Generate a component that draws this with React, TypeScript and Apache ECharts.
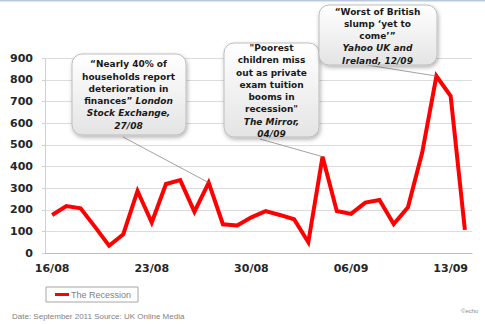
import React, { useEffect, useRef } from 'react';
import * as echarts from 'echarts';

const dates = [
  '16/08', '17/08', '18/08', '19/08', '20/08', '21/08', '22/08', '23/08', '24/08', '25/08',
  '26/08', '27/08', '28/08', '29/08', '30/08', '31/08', '01/09', '02/09', '03/09', '04/09',
  '05/09', '06/09', '07/09', '08/09', '09/09', '10/09', '11/09', '12/09', '13/09', '14/09',
];
const recession = [
  177, 218, 208, 123, 35, 88, 288, 142, 320, 338,
  192, 326, 134, 128, 166, 195, 177, 157, 51, 446,
  195, 182, 234, 246, 135, 212, 465, 818, 726, 108,
];
const seriesName = 'The Recession';
const calloutDates = ['27/08', '04/09', '12/09'];
const calloutTexts = [
  '“Nearly 40% of\nhouseholds report\ndeterioration in\nfinances” {i|London}\n{i|Stock Exchange,}\n{i|27/08}',
  '"Poorest\nchildren miss\nout as private\nexam tuition\nbooms in\nrecession"\n{i|The Mirror,}\n{i|04/09}',
  '“Worst of British\nslump ‘yet to\ncome’”\n{i|Yahoo UK and}\n{i|Ireland, 12/09}',
];
const footerText = 'Date: September 2011 Source: UK Online Media';
const creditText = '©echo';

// layout of the callout boxes (annotation placement)
const boxes = [
  { x: 72, y: 54, w: 114, h: 81, tx: 128.5, ty: 95, ax: 123, ay: 137 },
  { x: 224, y: 43, w: 95, h: 94, tx: 271.5, ty: 91, ax: 260, ay: 139 },
  { x: 319, y: 5, w: 118, h: 60, tx: 377.5, ty: 36.2, ax: 367, ay: 65 },
];

const FONT = '"DejaVu Sans", sans-serif';

export default function App() {
  const ref = useRef<HTMLDivElement>(null);
  useEffect(() => {
    document.body.style.margin = '0';
    const chart = echarts.init(ref.current!, null, { renderer: 'svg' });
    chart.setOption({
      animation: false,
      backgroundColor: '#ffffff',
      grid: { left: 45, right: 13, top: 58.3, bottom: 70.7, containLabel: false },
      xAxis: {
        type: 'category',
        data: dates,
        boundaryGap: true,
        axisLine: { lineStyle: { color: '#bfbfbf', width: 1 } },
        axisTick: { interval: 6, length: 4, lineStyle: { color: '#bfbfbf' } },
        axisLabel: {
          interval: 6,
          margin: 10,
          color: '#262626',
          fontFamily: FONT,
          fontWeight: 'bold',
          fontSize: 11,
        },
        splitLine: { show: false },
      },
      yAxis: {
        type: 'value',
        min: 0,
        max: 900,
        interval: 100,
        axisLine: { show: true, lineStyle: { color: '#d0d0d0', width: 1 } },
        axisTick: { show: true, length: 3, lineStyle: { color: '#d0d0d0' } },
        axisLabel: {
          margin: 12,
          color: '#262626',
          fontFamily: FONT,
          fontWeight: 'bold',
          fontSize: 11,
        },
        splitLine: { show: true, lineStyle: { color: '#dcdcdc', width: 1 } },
      },
      legend: {
        left: 46,
        top: 287,
        orient: 'horizontal',
        borderColor: '#a6a6a6',
        borderWidth: 1,
        padding: [3, 7, 3, 9],
        itemWidth: 14,
        itemHeight: 3,
        itemGap: 4,
        icon: 'rect',
        textStyle: { color: '#7f7f7f', fontSize: 9, fontFamily: '"Liberation Sans", Arial, sans-serif', padding: [0, 0, 0, -3] },
        data: [seriesName],
      },
      series: [
        {
          name: seriesName,
          type: 'line',
          data: recession,
          symbol: 'none',
          color: '#ff0000',
          lineStyle: { color: '#ff0000', width: 4, join: 'miter' },
          z: 3,
        },
      ],
    });

    const graphics: any[] = [
      {
        type: 'line',
        shape: { x1: 0, y1: 0.75, x2: 485, y2: 0.75 },
        style: { stroke: '#b9c9dd', lineWidth: 1.5 },
        z: 10,
      },
      {
        type: 'text',
        x: 12,
        y: 316,
        style: {
          text: footerText,
          fill: '#7f7f7f',
          font: '8px "Liberation Sans", Arial, sans-serif',
          textVerticalAlign: 'middle',
        },
      },
      {
        type: 'text',
        x: 461,
        y: 311,
        style: {
          text: creditText,
          fill: '#8c8c8c',
          font: '6px "Liberation Sans", Arial, sans-serif',
          textVerticalAlign: 'middle',
        },
      },
    ];

    calloutDates.forEach((d, i) => {
      const idx = dates.indexOf(d);
      const p = chart.convertToPixel({ seriesIndex: 0 }, [idx, recession[idx]]) as number[];
      const b = boxes[i];
      graphics.push({
        type: 'line',
        shape: { x1: b.ax, y1: b.ay, x2: p[0], y2: p[1] },
        style: { stroke: '#7a7a7a', lineWidth: 0.7 },
        z: 5,
      });
      graphics.push({
        type: 'rect',
        shape: { x: b.x, y: b.y, width: b.w, height: b.h, r: 10 },
        style: {
          fill: new echarts.graphic.LinearGradient(0, 0, 0, 1, [
            { offset: 0, color: '#ffffff' },
            { offset: 1, color: '#e4e4e4' },
          ]),
          stroke: '#bdbdbd',
          lineWidth: 1,
          shadowBlur: 4,
          shadowOffsetX: 1,
          shadowOffsetY: 2,
          shadowColor: 'rgba(0,0,0,0.3)',
        },
        z: 6,
      });
      graphics.push({
        type: 'text',
        x: b.tx,
        y: b.ty,
        style: {
          text: calloutTexts[i],
          fill: '#1a1a1a',
          font: 'bold 9px ' + FONT,
          align: 'center',
          verticalAlign: 'middle',
          lineHeight: 12.3,
          rich: {
            i: {
              fontStyle: 'italic',
              fontWeight: 'bold',
              fontSize: 9,
              fontFamily: FONT,
              fill: '#1a1a1a',
              lineHeight: 12.3,
            },
          },
        },
        z: 7,
      });
    });

    chart.setOption({ graphic: graphics });
    return () => chart.dispose();
  }, []);
  return <div ref={ref} style={{ width: 485, height: 324 }} />;
}
